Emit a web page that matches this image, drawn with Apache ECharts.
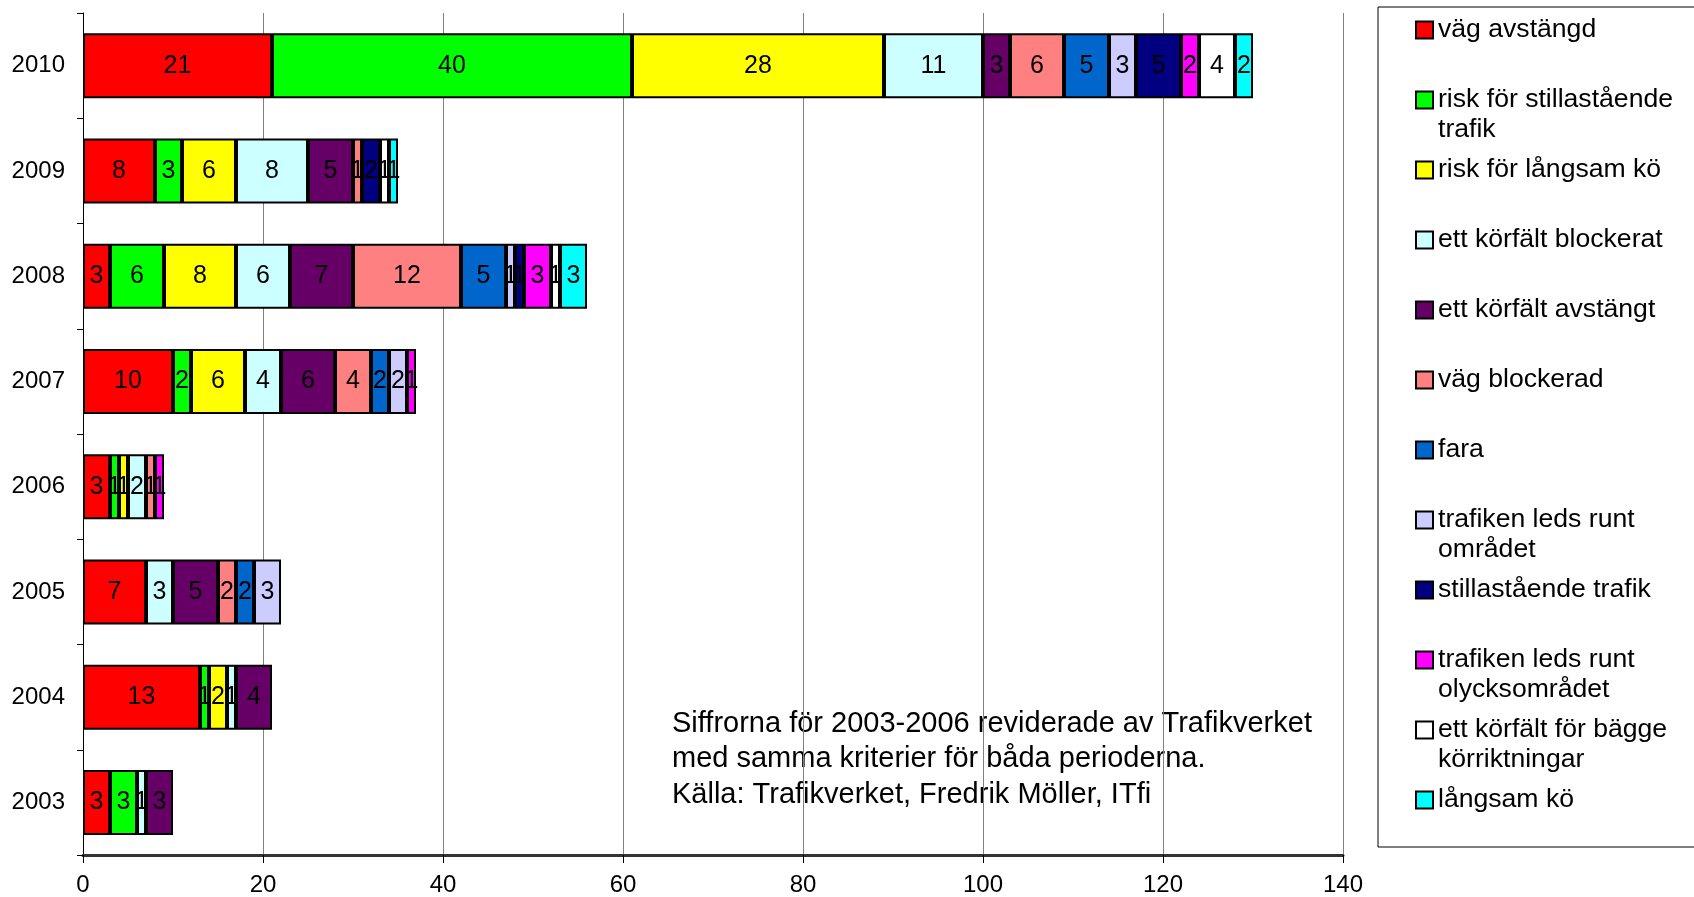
<!DOCTYPE html>
<html>
<head>
<meta charset="utf-8">
<script src="https://cdn.jsdelivr.net/npm/echarts@6/dist/echarts.min.js"></script>
<style>
  html, body { margin: 0; padding: 0; background: #fff; }
  #main { width: 1694px; height: 897px; }
</style>
</head>
<body>
<div id="main"></div>
<script>
// år, nedifrån och upp
var years = ['2003', '2004', '2005', '2006', '2007', '2008', '2009', '2010'];

var xTicks = [0, 20, 40, 60, 80, 100, 120, 140];

// antal per orsak och år (null = inget segment)
var vagAvstangd      = [3, 13, 7, 3, 10, 3, 8, 21];
var riskStillastaende = [3, 1, null, 1, 2, 6, 3, 40];
var riskLangsamKo    = [null, 2, null, 1, 6, 8, 6, 28];
var ettFaltBlockerat = [1, 1, 3, 2, 4, 6, 8, 11];
var ettFaltAvstangt  = [3, 4, 5, null, 6, 7, 5, 3];
var vagBlockerad     = [null, null, 2, 1, 4, 12, 1, 6];
var fara             = [null, null, 2, null, 2, 5, null, 5];
var ledsRuntOmradet  = [null, null, 3, null, 2, 1, null, 3];
var stillastaende    = [null, null, null, null, null, 1, 2, 5];
var ledsRuntOlycks   = [null, null, null, 1, 1, 3, null, 2];
var ettFaltBagge     = [null, null, null, null, null, 1, 1, 4];
var langsamKo        = [null, null, null, null, null, 3, 1, 2];

var seriesNames = [
  'väg avstängd',
  'risk för stillastående\ntrafik',
  'risk för långsam kö',
  'ett körfält blockerat',
  'ett körfält avstängt',
  'väg blockerad',
  'fara',
  'trafiken leds runt\nområdet',
  'stillastående trafik',
  'trafiken leds runt\nolycksområdet',
  'ett körfält för bägge\nkörriktningar',
  'långsam kö'
];
var seriesData = [vagAvstangd, riskStillastaende, riskLangsamKo, ettFaltBlockerat,
  ettFaltAvstangt, vagBlockerad, fara, ledsRuntOmradet, stillastaende,
  ledsRuntOlycks, ettFaltBagge, langsamKo];
var colors = ['#ff0000', '#00ff00', '#ffff00', '#ccffff', '#660066', '#ff8080',
  '#0066cc', '#ccccff', '#000080', '#ff00ff', '#ffffff', '#00ffff'];

var FONT = '"Liberation Sans", Arial, sans-serif';

var series = seriesNames.map(function (name, i) {
  return {
    name: name,
    type: 'bar',
    stack: 'total',
    barWidth: 65,
    data: seriesData[i],
    itemStyle: { color: colors[i], borderColor: '#000', borderWidth: 2 },
    label: {
      show: true,
      position: 'inside',
      color: '#000',
      fontSize: 25,
      fontFamily: FONT
    }
  };
});

// en legend per rad; tom rad först så att rutan hamnar vid första textraden
var legends = seriesNames.map(function (name, i) {
  var y = 30 + 70 * i;
  var twoLines = name.indexOf('\n') >= 0;
  return {
    orient: 'vertical',
    left: 1415,
    top: twoLines ? y - 45 : y - 15,
    padding: 0,
    itemWidth: 17,
    itemHeight: 17,
    icon: 'rect',
    selectedMode: false,
    data: [name],
    formatter: function (n) { return twoLines ? ' \n' + n : n; },
    textStyle: {
      fontSize: 26.6,
      lineHeight: 30,
      color: '#000',
      fontFamily: FONT
    }
  };
});

var option = {
  animation: false,
  backgroundColor: '#fff',
  color: colors,
  grid: { left: 83, right: 351, top: 13, bottom: 42 },
  legend: legends,
  xAxis: {
    type: 'value',
    min: xTicks[0],
    max: xTicks[xTicks.length - 1],
    interval: 20,
    axisLine: { show: true, lineStyle: { color: '#333', width: 3 } },
    axisTick: { show: true, length: 8, lineStyle: { color: '#000' } },
    axisLabel: { fontSize: 24, color: '#000', margin: 18, fontFamily: FONT },
    splitLine: { show: true, lineStyle: { color: '#808080', width: 1 } }
  },
  yAxis: {
    type: 'category',
    data: years,
    axisLine: { show: true, lineStyle: { color: '#000', width: 1 } },
    axisTick: { show: true, length: 6, alignWithLabel: false, lineStyle: { color: '#000' } },
    axisLabel: { fontSize: 24, color: '#000', margin: 18, fontFamily: FONT },
    splitLine: { show: false }
  },
  graphic: [
    {
      type: 'rect',
      shape: { x: 1378, y: 7, width: 400, height: 840 },
      style: { fill: 'none', stroke: '#000', lineWidth: 1 },
      z: -1
    },
    {
      type: 'text',
      left: 672,
      top: 706,
      style: {
        text: 'Siffrorna för 2003-2006 reviderade av Trafikverket\nmed samma kriterier för båda perioderna.\nKälla: Trafikverket, Fredrik Möller, ITfi',
        fontSize: 29,
        lineHeight: 35.5,
        fill: '#000',
        fontFamily: FONT
      }
    }
  ],
  series: series
};

var myChart = echarts.init(document.getElementById('main'));
myChart.setOption(option);
</script>
</body>
</html>
